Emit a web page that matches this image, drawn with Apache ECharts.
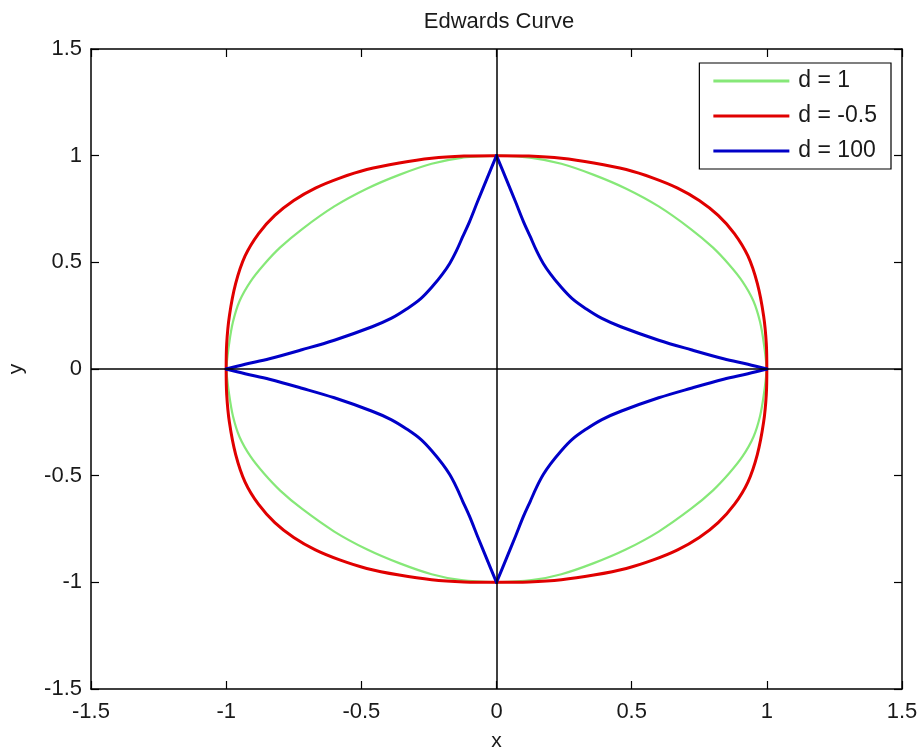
<!DOCTYPE html>
<html>
<head>
<meta charset="utf-8">
<title>Edwards Curve</title>
<script src="https://cdn.jsdelivr.net/npm/echarts@6/dist/echarts.min.js"></script>
<style>
  html, body { margin: 0; padding: 0; background: #fff; }
  #chart { width: 920px; height: 751px; }
</style>
</head>
<body>
<div id="chart"></div>
<script>
// Axis ticks shared by both axes
const tickValues = [-1.5, -1, -0.5, 0, 0.5, 1, 1.5];

// Legend labels
const seriesNames = ['d = 1', 'd = -0.5', 'd = 100'];

// d = 1, one arc per quadrant (top -> right -> bottom -> left -> top)
const d1Q1 = [[0, 1], [0.13, 0.99], [0.24, 0.962], [0.36, 0.91], [0.48, 0.845], [0.60, 0.762], [0.72, 0.655],
  [0.80, 0.57], [0.86, 0.49], [0.91, 0.41], [0.95, 0.32], [0.975, 0.22], [0.99, 0.11], [1, 0]];
const d1Q4 = [[1, 0], [0.99, -0.11], [0.975, -0.22], [0.95, -0.32], [0.91, -0.41], [0.86, -0.49], [0.80, -0.57],
  [0.72, -0.655], [0.60, -0.762], [0.48, -0.845], [0.36, -0.91], [0.24, -0.962], [0.13, -0.99], [0, -1]];
const d1Q3 = [[0, -1], [-0.13, -0.99], [-0.24, -0.962], [-0.36, -0.91], [-0.48, -0.845], [-0.60, -0.762], [-0.72, -0.655],
  [-0.80, -0.57], [-0.86, -0.49], [-0.91, -0.41], [-0.95, -0.32], [-0.975, -0.22], [-0.99, -0.11], [-1, 0]];
const d1Q2 = [[-1, 0], [-0.99, 0.11], [-0.975, 0.22], [-0.95, 0.32], [-0.91, 0.41], [-0.86, 0.49], [-0.80, 0.57],
  [-0.72, 0.655], [-0.60, 0.762], [-0.48, 0.845], [-0.36, 0.91], [-0.24, 0.962], [-0.13, 0.99], [0, 1]];

// d = -0.5
const dm05Q1 = [[0, 1], [0.12, 0.998], [0.24, 0.988], [0.36, 0.966], [0.48, 0.935], [0.58, 0.895], [0.67, 0.848],
  [0.75, 0.79], [0.82, 0.72], [0.88, 0.635], [0.93, 0.53], [0.965, 0.40], [0.988, 0.25], [0.998, 0.12], [1, 0]];
const dm05Q4 = [[1, 0], [0.998, -0.12], [0.988, -0.25], [0.965, -0.40], [0.93, -0.53], [0.88, -0.635], [0.82, -0.72],
  [0.75, -0.79], [0.67, -0.848], [0.58, -0.895], [0.48, -0.935], [0.36, -0.966], [0.24, -0.988], [0.12, -0.998], [0, -1]];
const dm05Q3 = [[0, -1], [-0.12, -0.998], [-0.24, -0.988], [-0.36, -0.966], [-0.48, -0.935], [-0.58, -0.895], [-0.67, -0.848],
  [-0.75, -0.79], [-0.82, -0.72], [-0.88, -0.635], [-0.93, -0.53], [-0.965, -0.40], [-0.988, -0.25], [-0.998, -0.12], [-1, 0]];
const dm05Q2 = [[-1, 0], [-0.998, 0.12], [-0.988, 0.25], [-0.965, 0.40], [-0.93, 0.53], [-0.88, 0.635], [-0.82, 0.72],
  [-0.75, 0.79], [-0.67, 0.848], [-0.58, 0.895], [-0.48, 0.935], [-0.36, 0.966], [-0.24, 0.988], [-0.12, 0.998], [0, 1]];

// d = 100 (cusps at the four axis points)
const d100Q1 = [[0, 1], [0.036, 0.89], [0.07, 0.785], [0.10, 0.69], [0.125, 0.62], [0.148, 0.555], [0.173, 0.495],
  [0.20, 0.445], [0.235, 0.39], [0.28, 0.33], [0.334, 0.28], [0.39, 0.237], [0.46, 0.198], [0.60, 0.135],
  [0.72, 0.09], [0.84, 0.048], [0.93, 0.022], [1, 0]];
const d100Q4 = [[1, 0], [0.93, -0.022], [0.84, -0.048], [0.72, -0.09], [0.60, -0.135], [0.46, -0.198], [0.39, -0.237],
  [0.334, -0.28], [0.28, -0.33], [0.235, -0.39], [0.20, -0.445], [0.173, -0.495], [0.148, -0.555], [0.125, -0.62],
  [0.10, -0.69], [0.07, -0.785], [0.036, -0.89], [0, -1]];
const d100Q3 = [[0, -1], [-0.036, -0.89], [-0.07, -0.785], [-0.10, -0.69], [-0.125, -0.62], [-0.148, -0.555], [-0.173, -0.495],
  [-0.20, -0.445], [-0.235, -0.39], [-0.28, -0.33], [-0.334, -0.28], [-0.39, -0.237], [-0.46, -0.198], [-0.60, -0.135],
  [-0.72, -0.09], [-0.84, -0.048], [-0.93, -0.022], [-1, 0]];
const d100Q2 = [[-1, 0], [-0.93, 0.022], [-0.84, 0.048], [-0.72, 0.09], [-0.60, 0.135], [-0.46, 0.198], [-0.39, 0.237],
  [-0.334, 0.28], [-0.28, 0.33], [-0.235, 0.39], [-0.20, 0.445], [-0.173, 0.495], [-0.148, 0.555], [-0.125, 0.62],
  [-0.10, 0.69], [-0.07, 0.785], [-0.036, 0.89], [0, 1]];

const curveArcs = [
  [d1Q1, d1Q4, d1Q3, d1Q2],
  [dm05Q1, dm05Q4, dm05Q3, dm05Q2],
  [d100Q1, d100Q4, d100Q3, d100Q2]
];

const colors = ['#86e878', '#e00000', '#0000c8'];
const widths = [2.2, 3, 3];
const FONT = '"Liberation Sans", Arial, sans-serif';
const INK = '#1a1a1a';

const axisMin = tickValues[0];
const axisMax = tickValues[tickValues.length - 1];
const step = tickValues[1] - tickValues[0];

function boxAxis(position, showLabels, name) {
  return {
    type: 'value',
    position: position,
    min: axisMin,
    max: axisMax,
    interval: step,
    name: name || '',
    nameLocation: 'middle',
    nameGap: (position === 'bottom') ? 42 : 64,
    nameTextStyle: { color: INK, fontFamily: FONT, fontSize: 21 },
    axisLine: { show: true, onZero: false, lineStyle: { color: '#000', width: 1.5 } },
    axisTick: { show: true, inside: true, length: 8, lineStyle: { color: '#000', width: 1.2 } },
    axisLabel: {
      show: showLabels,
      color: INK,
      fontFamily: FONT,
      fontSize: 22,
      margin: (position === 'bottom') ? 12 : 9
    },
    splitLine: { show: false }
  };
}

const chart = echarts.init(document.getElementById('chart'), null, { renderer: 'canvas' });

const curveSeries = [];
curveArcs.forEach(function (arcs, i) {
  arcs.forEach(function (pts) {
    curveSeries.push({
      name: seriesNames[i],
      type: 'line',
      data: pts,
      showSymbol: false,
      symbol: 'none',
      smooth: 0.35,
      z: 2 + i,
      itemStyle: { color: colors[i] },
      lineStyle: { color: colors[i], width: widths[i], join: 'round', cap: 'round' },
      emphasis: { disabled: true }
    });
  });
});

const option = {
  backgroundColor: '#fff',
  animation: false,
  title: {
    text: 'Edwards Curve',
    left: 494,
    textAlign: 'center',
    top: 6,
    textStyle: { color: INK, fontFamily: FONT, fontSize: 22, fontWeight: 'normal' }
  },
  grid: { left: 91, right: 18, top: 49, bottom: 62, containLabel: false, outerBoundsMode: 'none' },
  xAxis: [boxAxis('bottom', true, 'x'), boxAxis('top', false)],
  yAxis: [boxAxis('left', true, 'y'), boxAxis('right', false)],
  legend: {
    data: seriesNames,
    orient: 'vertical',
    right: 29,
    top: 63,
    backgroundColor: '#fff',
    borderColor: '#000',
    borderWidth: 1.2,
    padding: [6, 14, 6, 14],
    itemWidth: 76,
    itemHeight: 3,
    itemGap: 11,
    icon: 'rect',
    textStyle: { color: INK, fontFamily: FONT, fontSize: 23, lineHeight: 24, padding: [0, 0, 0, 4] }
  },
  series: [
    {
      // coordinate axes through the origin
      type: 'line',
      data: [],
      z: 1,
      silent: true,
      markLine: {
        silent: true,
        symbol: 'none',
        label: { show: false },
        lineStyle: { color: '#000', width: 1.5, type: 'solid' },
        emphasis: { disabled: true },
        data: [{ xAxis: 0 }, { yAxis: 0 }]
      }
    }
  ].concat(curveSeries)
};

chart.setOption(option);
</script>
</body>
</html>
